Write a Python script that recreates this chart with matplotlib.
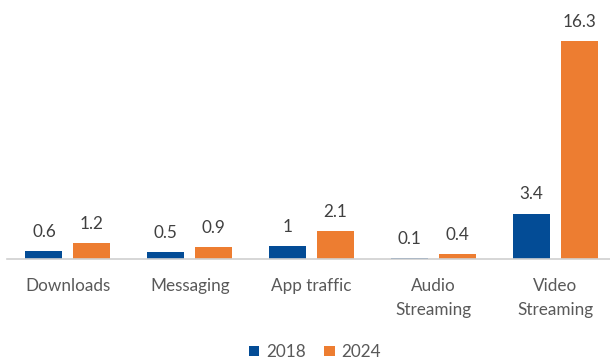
import numpy as np
import matplotlib
matplotlib.use("Agg")
import matplotlib.pyplot as plt

plt.rcParams["font.family"] = ["Lato", "DejaVu Sans"]

categories = ["Downloads", "Messaging", "App traffic", "Audio\nStreaming", "Video\nStreaming"]
years = ["2018", "2024"]
values_2018 = [0.6, 0.5, 1.0, 0.1, 3.4]
values_2024 = [1.2, 0.9, 2.1, 0.4, 16.3]
value_labels_2018 = ["0.6", "0.5", "1", "0.1", "3.4"]
value_labels_2024 = ["1.2", "0.9", "2.1", "0.4", "16.3"]

blue = "#034C96"
orange = "#ED7D31"
text_grey = "#595959"

fig = plt.figure(figsize=(6.10, 3.62), dpi=100)
ax = fig.add_axes([7 / 610, 1 - 259 / 362, 603 / 610, 229 / 362])

x = np.arange(len(categories))
width = 0.304
offset = 0.197

bars_a = ax.bar(x - offset, values_2018, width, color=blue, label=years[0])
bars_b = ax.bar(x + offset, values_2024, width, color=orange, label=years[1])

for bars, labels in ((bars_a, value_labels_2018), (bars_b, value_labels_2024)):
    for b, lab in zip(bars, labels):
        ax.annotate(lab, (b.get_x() + b.get_width() / 2, b.get_height()),
                    xytext=(0, 8), textcoords="offset points",
                    ha="center", va="bottom", fontsize=12.3, color="#404040")

ax.set_xlim(-0.5, 4.45)
ax.set_ylim(0, 17.13)
ax.set_xticks(x)
ax.set_xticklabels(categories, fontsize=12.3, color=text_grey, linespacing=1.55)
ax.tick_params(axis="x", length=0, pad=14)
ax.set_yticks([])
for side in ("top", "right", "left"):
    ax.spines[side].set_visible(False)
ax.spines["bottom"].set_color("#D0D0D0")
ax.spines["bottom"].set_linewidth(1.2)

fig.legend(loc="center", bbox_to_anchor=(315 / 610, 1 - 352 / 362), ncol=2,
           frameon=False, fontsize=12.3, labelcolor=text_grey,
           handlelength=0.6, handleheight=0.6, handletextpad=0.4,
           columnspacing=1.1)

plt.savefig("out.png", dpi=100)
